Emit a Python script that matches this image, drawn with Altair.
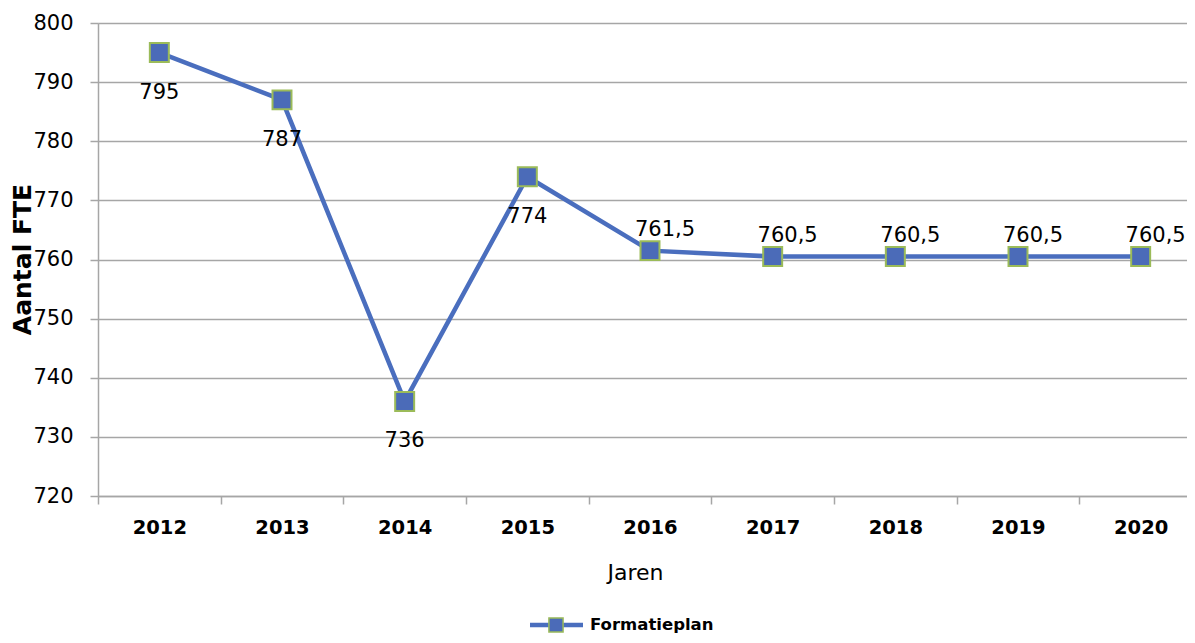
import altair as alt
import pandas as pd

years = ["2012", "2013", "2014", "2015", "2016", "2017", "2018", "2019", "2020"]
fte = [795, 787, 736, 774, 761.5, 760.5, 760.5, 760.5, 760.5]
labels = ["795", "787", "736", "774", "761,5", "760,5", "760,5", "760,5", "760,5"]
label_side = ["below", "below", "below", "below", "above", "above", "above", "above", "above"]
series_name = "Formatieplan"

df = pd.DataFrame({"jaar": years, "fte": fte, "label": labels, "side": label_side})

LINE = "#4A6EBE"
FILL = "#4B6BB8"
EDGE = "#9BBB59"
FONT = "DejaVu Sans"

x_enc = alt.X(
    "jaar:O",
    sort=years,
    scale=alt.Scale(type="band", paddingInner=0, paddingOuter=0, range=[0, 1104]),
    axis=alt.Axis(
        title="Jaren", labelAngle=0, tickBand="extent", labelFont=FONT, labelFontSize=19.5,
        labelFontWeight="bold", labelColor="#000000", labelPadding=14, tickSize=8,
        tickColor="#A6A6A6", domainColor="#A6A6A6", domainWidth=1.5, tickWidth=1.5,
        grid=False, titleFont=FONT, titleFontSize=22, titleFontWeight="normal",
        titleColor="#000000", titleX=537, titleY=76, titleBaseline="middle",
        titleAnchor="start", titleAlign="center", labelOverlap=False, labelBound=False,
    ),
)
y_enc = alt.Y(
    "fte:Q",
    scale=alt.Scale(domain=[720, 800], nice=False, zero=False),
    axis=alt.Axis(
        title="Aantal FTE", values=[720, 730, 740, 750, 760, 770, 780, 790, 800],
        labelFont=FONT, labelFontSize=21, labelColor="#000000", labelPadding=17,
        tickSize=8, tickColor="#A6A6A6", tickWidth=1.5, domainColor="#A6A6A6",
        domainWidth=1.5, gridColor="#A6A6A6", gridWidth=1.5, titleFont=FONT,
        titleFontSize=25, titleFontWeight="bold", titleColor="#000000",
        titleX=-76, titleY=236, titleAngle=-90, titleBaseline="middle", titleAlign="center",
    ),
)

base = alt.Chart(df).encode(x=x_enc, y=y_enc)

line = base.mark_line(color=LINE, strokeWidth=4.5)
pts = base.mark_square(size=360, fill=FILL, stroke=EDGE, strokeWidth=2, opacity=1)
below = base.transform_filter(alt.datum.side == "below").mark_text(
    font=FONT, fontSize=21, color="#000000", dy=40, baseline="middle"
).encode(text="label:N")
above = base.transform_filter(alt.datum.side == "above").mark_text(
    font=FONT, fontSize=21, color="#000000", dy=-21, dx=15, baseline="middle"
).encode(text="label:N")

leg_df = pd.DataFrame({"name": [series_name]})
leg_line = alt.Chart(leg_df).mark_rule(color=LINE, strokeWidth=4.5).encode(
    x=alt.value(432), x2=alt.value(485), y=alt.value(602)
)
leg_sq = alt.Chart(leg_df).mark_square(size=200, fill=FILL, stroke=EDGE, strokeWidth=1.5, opacity=1).encode(
    x=alt.value(458), y=alt.value(602)
)
leg_txt = alt.Chart(leg_df).mark_text(
    font=FONT, fontSize=16.5, fontWeight="bold", color="#000000", align="left", baseline="middle"
).encode(x=alt.value(492), y=alt.value(602), text="name:N")

chart = alt.layer(line, pts, below, above, leg_line, leg_sq, leg_txt).properties(
    width=1089, height=473,
    autosize=alt.AutoSizeParams(type="none"),
    padding={"left": 90, "top": 15, "right": 0, "bottom": 138},
).configure_view(stroke=None).configure(background="#ffffff")

chart.save("out.html", embed_options={"renderer": "svg", "actions": False})
